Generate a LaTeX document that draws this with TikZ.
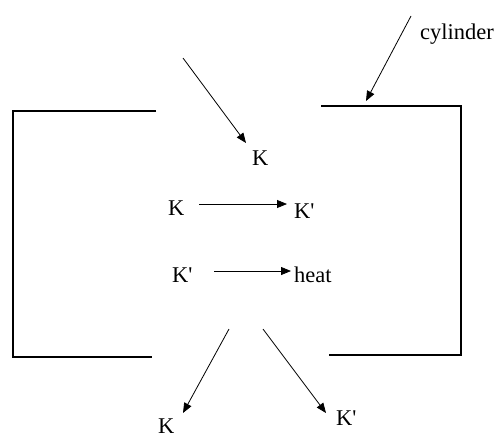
\documentclass[tikz,border=0pt]{standalone}
\usepackage{fontspec}
\setmainfont{Liberation Serif}
\usetikzlibrary{arrows.meta}
\begin{document}
\begin{tikzpicture}[x=1pt,y=-1pt,
  lbl/.style={anchor=base west,inner sep=0pt,font=\fontsize{22.5}{22.5}\selectfont},
  wall/.style={line width=1.4pt,line join=miter},
  arr/.style={line width=0.8pt,-{Triangle[length=10pt,width=8pt]}}]
\useasboundingbox (0,0) rectangle (497,437);
% cylinder walls
\coordinate (l1) at (156,111); \coordinate (l2) at (13,111);
\coordinate (l3) at (13,357); \coordinate (l4) at (152,357);
\coordinate (r1) at (321,106); \coordinate (r2) at (461,106);
\coordinate (r3) at (461,355); \coordinate (r4) at (329,355);
\draw[wall] (l1) -- (l2) -- (l3) -- (l4);
\draw[wall] (r1) -- (r2) -- (r3) -- (r4);
% labels
\node[lbl] (kin) at (252,165) {K};
\node[lbl] (k1) at (168,215) {K};
\node[lbl] (kp1) at (294,218) {K\textquotesingle};
\node[lbl] (kp2) at (172,282) {K\textquotesingle};
\node[lbl] (heat) at (294,282) {heat};
\node[lbl] (kout) at (158,433) {K};
\node[lbl] (kpout) at (336,425) {K\textquotesingle};
\node[lbl] (cyl) at (420,39) {cylinder};
% arrows
\coordinate (a1s) at (183,58);  \coordinate (a1e) at (246,143);
\coordinate (a2s) at (199,204); \coordinate (a2e) at (287,204);
\coordinate (a3s) at (214,271); \coordinate (a3e) at (291,271);
\coordinate (a4s) at (229,329); \coordinate (a4e) at (183,413);
\coordinate (a5s) at (263,329); \coordinate (a5e) at (326,413);
\coordinate (a6s) at (411,16);  \coordinate (a6e) at (366,101);
\draw[arr] (a1s) -- (a1e);
\draw[arr] (a2s) -- (a2e);
\draw[arr] (a3s) -- (a3e);
\draw[arr] (a4s) -- (a4e);
\draw[arr] (a5s) -- (a5e);
\draw[arr] (a6s) -- (a6e);
\end{tikzpicture}
\end{document}
